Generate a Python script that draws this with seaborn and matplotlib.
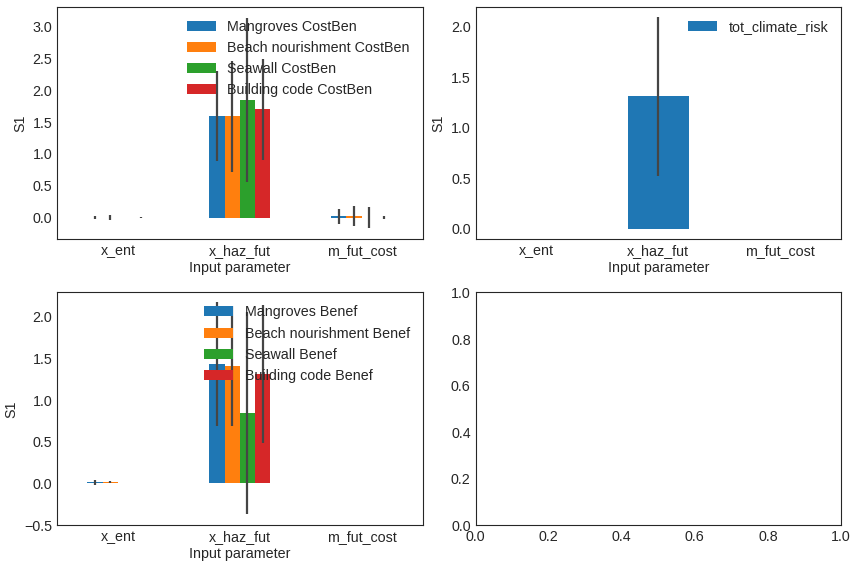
import numpy as np
import matplotlib
matplotlib.use('Agg')
import matplotlib.pyplot as plt
from matplotlib.ticker import MultipleLocator
import seaborn as sns

# input parameters (x axis categories)
params = ["x_ent", "x_haz_fut", "m_fut_cost"]

# cost/benefit S1 indices per measure
measures = ["Mangroves", "Beach nourishment", "Seawall", "Building code"]
costben_s1 = [
    [0.00, 1.60, 0.02],
    [0.00, 1.59, 0.02],
    [0.00, 1.85, 0.00],
    [0.00, 1.70, 0.00],
]
costben_err = [
    [0.03, 0.71, 0.12],
    [0.04, 0.87, 0.16],
    [0.00, 1.29, 0.16],
    [0.015, 0.79, 0.03],
]
benef_s1 = [
    [0.015, 1.43, 0.0],
    [0.015, 1.41, 0.0],
    [0.00, 0.84, 0.0],
    [0.00, 1.31, 0.0],
]
benef_err = [
    [0.03, 0.74, 0.0],
    [0.015, 0.72, 0.0],
    [0.00, 1.21, 0.0],
    [0.00, 0.83, 0.0],
]

# total climate risk
risk_s1 = [0.0, 1.31, 0.0]
risk_err = [0.0, 0.79, 0.0]

sns.set_style("white")
plt.rcParams['font.family'] = ['Liberation Sans', 'DejaVu Sans']
plt.rcParams['font.size'] = 10.3
colors = sns.color_palette("tab10")
FS = 10.3


def grouped_bars(ax, values, errors, labels, ylim):
    """pandas-style grouped bar chart with error bars"""
    n = len(values)
    width = 0.5 / n
    x = np.arange(len(params))
    for i, (vals, errs, lab) in enumerate(zip(values, errors, labels)):
        offset = (i - (n - 1) / 2) * width
        ax.bar(x + offset, vals, width, yerr=errs, color=colors[i], label=lab,
               linewidth=0, edgecolor='none',
               error_kw=dict(ecolor='0.27', elinewidth=1.6))
    ax.set_xticks(x)
    ax.set_xticklabels(params)
    ax.set_xlim(-0.5, len(params) - 0.5)
    ax.set_ylim(*ylim)
    ax.yaxis.set_major_locator(MultipleLocator(0.5))
    ax.set_ylabel("S1", fontsize=FS)
    ax.set_xlabel("Input parameter", fontsize=FS, labelpad=2)
    ax.legend(loc='upper right', frameon=False, fontsize=FS)


fig, axes = plt.subplots(2, 2, figsize=(8.56, 5.68), dpi=100)

grouped_bars(axes[0, 0], costben_s1, costben_err,
             [f"{m} CostBen" for m in measures], (-0.345, 3.31))
grouped_bars(axes[0, 1], [risk_s1], [risk_err], ["tot_climate_risk"],
             (-0.109, 2.198))
grouped_bars(axes[1, 0], benef_s1, benef_err,
             [f"{m} Benef" for m in measures], (-0.5, 2.29))

for ax in axes.flat:
    ax.tick_params(labelsize=FS, length=0, pad=3.5)
    for sp in ax.spines.values():
        sp.set_color('0.15')

fig.subplots_adjust(left=0.0666, right=0.9825, top=0.9877, bottom=0.0757,
                    wspace=0.145, hspace=0.228)
plt.savefig("out.png", dpi=100)
plt.close()
